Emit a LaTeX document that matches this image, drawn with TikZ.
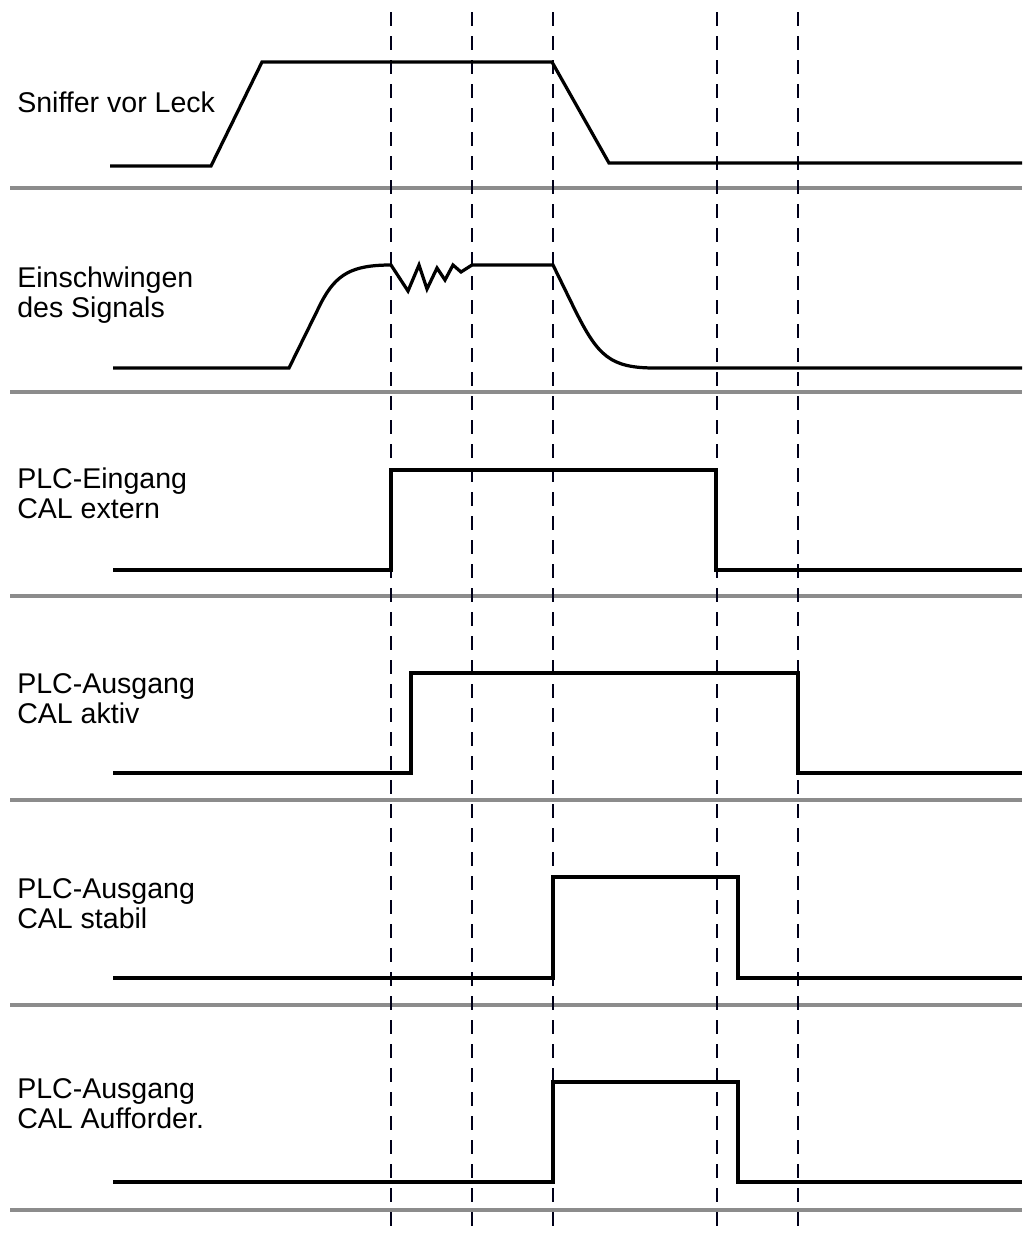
\documentclass[tikz,border=0pt]{standalone}
\usepackage{fontspec}
\setmainfont{Liberation Sans}
\begin{document}
\begin{tikzpicture}[x=0.25mm,y=-0.25mm,
  sig/.style={line width=2.3pt,black,line join=miter},
  sep/.style={line width=2.2pt,color=black!45},
  guide/.style={line width=1.4pt,color=black!90!blue,dash pattern=on 3.5mm off 2.5mm},
  lbl/.style={inner sep=0pt,anchor=base west,align=left,font=\fontsize{20.3}{21.25}\selectfont}]
\useasboundingbox (0,0) rectangle (1022,1236);
% separators
\foreach \y in {188,392,596,800,1005,1210}
  \draw[sep] (10,\y) -- (1022,\y);
% guide lines
\foreach \x in {391,472,553,717,798}
  \draw[guide] (\x,12) -- (\x,1236);
% labels (anchored at the baseline of the last line)
\node[lbl] (l1) at (17,112) {Sniffer vor Leck};
\node[lbl] (l2) at (17,317) {Einschwingen\\des Signals};
\node[lbl] (l3) at (17,518) {PLC-Eingang\\CAL extern};
\node[lbl] (l4) at (17,723) {PLC-Ausgang\\CAL aktiv};
\node[lbl] (l5) at (17,928) {PLC-Ausgang\\CAL stabil};
\node[lbl] (l6) at (17,1128) {PLC-Ausgang\\CAL Aufforder.};
% signal 1
\draw[sig] (110,166) -- (211,166) -- (262,62) -- (552,62) -- (609,163) -- (1022,163);
% signal 2
\draw[sig] (113,368) -- (289,368) -- (321,303) .. controls (336,274) and (352,265) .. (391,265)
  -- (408,291) -- (419,265) -- (427,289) -- (437,268) -- (445,280) -- (453,265) -- (461,272) -- (472,265)
  -- (553,265) -- (575,310) .. controls (598,356) and (610,368) .. (655,368) -- (1022,368);
% signal 3
\draw[sig] (113,570) -- (391,570) -- (391,470) -- (716,470) -- (716,570) -- (1022,570);
% signal 4
\draw[sig] (113,773) -- (411,773) -- (411,673) -- (798,673) -- (798,773) -- (1022,773);
% signal 5
\draw[sig] (113,978) -- (553,978) -- (553,877) -- (738,877) -- (738,978) -- (1022,978);
% signal 6
\draw[sig] (113,1182) -- (553,1182) -- (553,1082) -- (738,1082) -- (738,1182) -- (1022,1182);
\end{tikzpicture}
\end{document}
